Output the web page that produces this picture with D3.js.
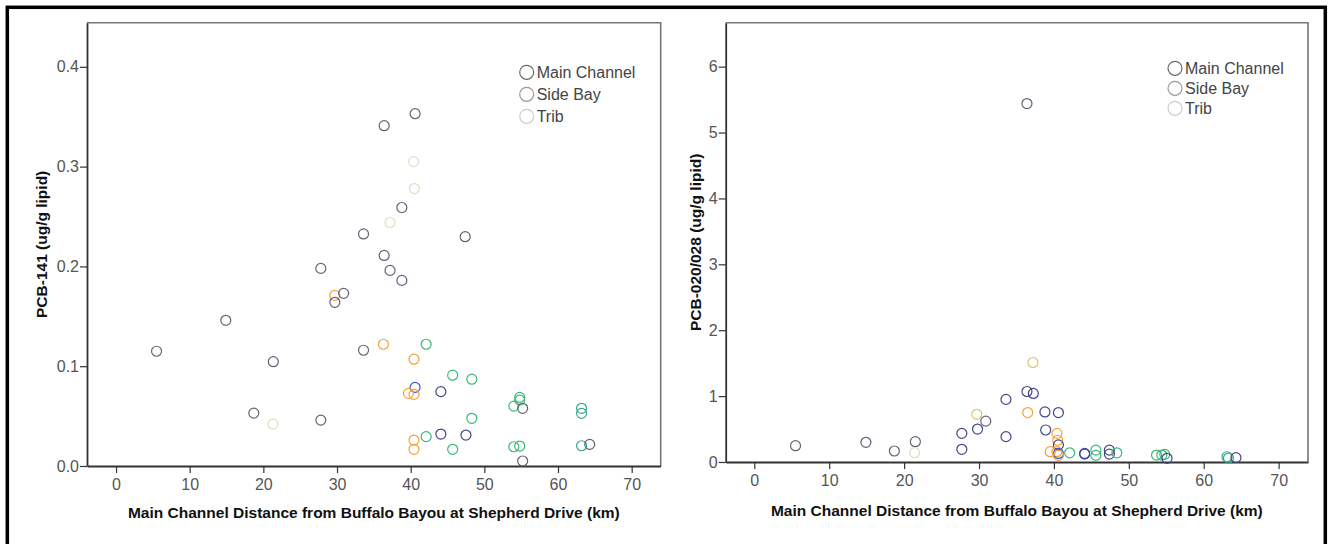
<!DOCTYPE html>
<html>
<head>
<meta charset="utf-8">
<script src="https://cdn.jsdelivr.net/npm/d3@7"></script>
<style>
  body { margin: 0; background: #fff; }
  svg { display: block; font-family: Arial, "Liberation Sans", sans-serif; }
</style>
</head>
<body>
<script>
// x ticks shared by both panels (km)
var xTicks = [0, 10, 20, 30, 40, 50, 60, 70];
var legendNames = ["Main Channel", "Side Bay", "Trib"];
var legendColors = ["#6a6a6a", "#999", "#ccc"];
var groupColors = {
    slate: "#636377", navy: "#45458a", blue: "#3358e0", orange: "#f5a23a",
    yellow: "#dcc46a", green: "#3cb878", teal: "#3aa68f", pale: "#e2dec2"
};

// PCB-141: [distance km, value, colour group]
var pcb141 = [
    [5.5, 0.115, "slate"], [14.9, 0.146, "slate"], [18.7, 0.053, "slate"], [21.35, 0.1045, "slate"],
    [21.3, 0.042, "pale"], [27.8, 0.198, "slate"], [27.8, 0.046, "slate"], [29.7, 0.171, "orange"],
    [29.7, 0.164, "slate"], [30.9, 0.173, "slate"], [33.6, 0.2325, "slate"], [33.6, 0.116, "slate"],
    [36.4, 0.341, "slate"], [36.4, 0.211, "slate"], [36.3, 0.122, "orange"], [37.2, 0.244, "pale"],
    [37.2, 0.196, "slate"], [38.8, 0.259, "slate"], [38.8, 0.186, "slate"], [40.6, 0.353, "slate"],
    [40.4, 0.305, "pale"], [40.5, 0.278, "pale"], [40.45, 0.107, "orange"], [40.6, 0.0788, "blue"],
    [39.7, 0.0728, "orange"], [40.45, 0.0718, "orange"], [40.45, 0.026, "orange"], [40.45, 0.0167, "orange"],
    [42.1, 0.122, "green"], [42.1, 0.0294, "green"], [44.1, 0.0745, "navy"], [44.1, 0.032, "navy"],
    [45.7, 0.091, "green"], [45.7, 0.0167, "green"], [47.4, 0.2298, "slate"], [47.5, 0.031, "navy"],
    [48.3, 0.087, "green"], [48.3, 0.0478, "green"], [54.8, 0.0688, "green"], [54.8, 0.066, "green"],
    [54.0, 0.060, "green"], [55.2, 0.0578, "slate"], [54.0, 0.0193, "green"], [54.8, 0.020, "green"],
    [55.2, 0.005, "slate"], [63.2, 0.0578, "teal"], [63.2, 0.0528, "teal"], [63.2, 0.0203, "teal"],
    [64.3, 0.0217, "slate"]
];

// PCB-020/028
var pcb020 = [
    [5.5, 0.247, "slate"], [14.9, 0.299, "slate"], [18.7, 0.167, "slate"], [21.5, 0.308, "slate"],
    [21.4, 0.141, "pale"], [27.7, 0.435, "navy"], [27.7, 0.193, "navy"], [29.7, 0.724, "yellow"],
    [29.8, 0.50, "navy"], [30.9, 0.62, "slate"], [33.6, 0.95, "navy"], [33.6, 0.385, "navy"],
    [36.4, 5.44, "slate"], [36.4, 1.07, "navy"], [37.25, 1.04, "navy"], [37.2, 1.51, "yellow"],
    [36.5, 0.75, "orange"], [38.8, 0.76, "navy"], [40.6, 0.75, "navy"], [38.9, 0.486, "navy"],
    [40.4, 0.435, "orange"], [40.5, 0.33, "orange"], [40.6, 0.26, "navy"], [39.5, 0.156, "orange"],
    [40.4, 0.156, "orange"], [40.6, 0.13, "blue"], [40.6, 0.10, "orange"], [42.1, 0.14, "green"],
    [44.1, 0.12, "blue"], [44.1, 0.13, "navy"], [45.6, 0.18, "green"], [45.6, 0.10, "green"],
    [47.4, 0.18, "navy"], [47.4, 0.12, "navy"], [48.4, 0.14, "green"], [53.7, 0.105, "green"],
    [54.4, 0.105, "green"], [54.8, 0.116, "green"], [55.1, 0.056, "navy"], [63.1, 0.08, "teal"],
    [63.3, 0.06, "teal"], [64.3, 0.066, "navy"]
];
var yTicks141 = [0, 0.1, 0.2, 0.3, 0.4];
var yTicks020 = [0, 1, 2, 3, 4, 5, 6];

var W = 1330, H = 544;
var svg = d3.select("body").append("svg").attr("width", W).attr("height", H);

// outer black frame (bottom edge is cut off)
svg.append("rect").attr("x", 7.3).attr("y", 7.3).attr("width", 1318).attr("height", 600)
    .attr("fill", "none").attr("stroke", "#000").attr("stroke-width", 3.5);

function drawPanel(p) {
    var x = d3.scaleLinear().domain(p.xDomain).range([p.left, p.right]);
    var y = d3.scaleLinear().domain(p.yDomain).range([p.bottom, p.top]);

    // top / right frame
    svg.append("path")
        .attr("d", "M" + p.left + "," + p.top + "H" + p.right + "V" + p.bottom)
        .attr("fill", "none").attr("stroke", "#777").attr("stroke-width", 1.6);

    var gx = svg.append("g").attr("transform", "translate(0," + p.bottom + ")")
        .call(d3.axisBottom(x).tickValues(xTicks).tickSize(7).tickSizeOuter(0).tickPadding(6));
    var gy = svg.append("g").attr("transform", "translate(" + p.left + ",0)")
        .call(d3.axisLeft(y).tickValues(p.yTicks).tickFormat(d3.format(p.yFormat))
            .tickSize(7).tickSizeOuter(0).tickPadding(1));
    [gx, gy].forEach(function (g) {
        g.selectAll(".domain").attr("stroke", "#333").attr("stroke-width", 1.8);
        g.selectAll(".tick line").attr("stroke", "#333").attr("stroke-width", 1.2);
        g.selectAll(".tick text").attr("fill", "#555").attr("font-size", 16)
            .attr("font-family", "Arial, 'Liberation Sans', sans-serif");
    });

    // points
    svg.append("g").selectAll("circle").data(p.data).enter().append("circle")
        .attr("cx", function (d) { return x(d[0]); })
        .attr("cy", function (d) { return y(d[1]); })
        .attr("r", 5)
        .attr("fill", "none")
        .attr("stroke", function (d) { return groupColors[d[2]]; })
        .attr("stroke-width", 1.2);

    // axis titles
    svg.append("text").attr("x", (p.left + p.right) / 2).attr("y", p.xTitleY)
        .attr("text-anchor", "middle").attr("font-weight", "bold").attr("font-size", 15.5)
        .attr("fill", "#111").text("Main Channel Distance from Buffalo Bayou at Shepherd Drive (km)");
    svg.append("text")
        .attr("transform", "translate(" + p.yTitleX + "," + (p.top + p.bottom) / 2 + ") rotate(-90)")
        .attr("text-anchor", "middle").attr("font-weight", "bold").attr("font-size", 15.5)
        .attr("fill", "#111").text(p.yTitle);

    // legend
    var lg = svg.append("g");
    legendNames.forEach(function (name, i) {
        var cy = p.legendY + i * p.legendStep;
        lg.append("circle").attr("cx", p.legendX).attr("cy", cy).attr("r", 7)
            .attr("fill", "none").attr("stroke", legendColors[i]).attr("stroke-width", 1.2);
        lg.append("text").attr("x", p.legendX + 10).attr("y", cy).attr("dy", "0.36em")
            .attr("font-size", 16).attr("fill", "#444").text(name);
    });
}

drawPanel({
    data: pcb141, left: 87, right: 660.7, top: 22.7, bottom: 466,
    xDomain: [-3.94, 73.94], yDomain: [0, 0.4442], yTicks: yTicks141, yFormat: ".1f",
    yTitle: "PCB-141 (ug/g lipid)", yTitleX: 47, xTitleY: 518,
    legendX: 526.7, legendY: 72.3, legendStep: 22
});
drawPanel({
    data: pcb020, left: 725.7, right: 1308, top: 22.7, bottom: 462,
    xDomain: [-3.82, 73.92], yDomain: [0, 6.667], yTicks: yTicks020, yFormat: "d",
    yTitle: "PCB-020/028 (ug/g lipid)", yTitleX: 701, xTitleY: 515.5,
    legendX: 1175, legendY: 68.3, legendStep: 20
});
</script>
</body>
</html>
